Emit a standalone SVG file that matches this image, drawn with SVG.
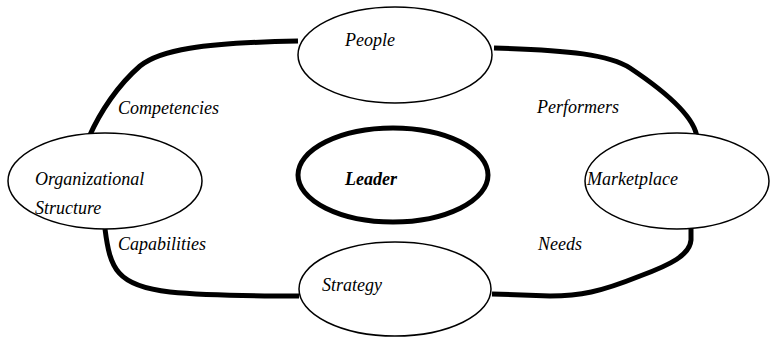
<svg xmlns="http://www.w3.org/2000/svg" width="770" height="339" viewBox="0 0 770 339">
<style>
.n{fill:#fff;stroke:#000;stroke-width:1.5}
.c{fill:none;stroke:#000;stroke-width:5}
text{font-family:"Liberation Serif",serif;font-style:italic;font-size:18px;fill:#000}
.b{font-weight:bold}
</style>
<rect width="770" height="339" fill="#fff"/>
<g id="connectors">
<path class="c" d="M298,41 C200,43 160,50 140,66 C118,85 100,112 89,137"/>
<path class="c" d="M494,48 C570,50 610,55 630,68 C660,88 695,115 697,138"/>
<path class="c" d="M105,229 C110,268 116,286 170,292 C200,295 250,296 299,296"/>
<path class="c" d="M691,224 L691,240 C690,255 670,265 640,276 C600,292 580,296 550,296 L492,294"/>
</g>
<g id="people"><ellipse class="n" cx="395" cy="55" rx="97" ry="48"/><text x="345" y="46">People</text></g>
<g id="org"><ellipse class="n" cx="105" cy="181" rx="97" ry="48"/><text x="35" y="185">Organizational</text><text x="35" y="214">Structure</text></g>
<g id="leader"><ellipse cx="393" cy="175" rx="95" ry="47" fill="#fff" stroke="#000" stroke-width="5"/><text class="b" x="345" y="185">Leader</text></g>
<g id="marketplace"><ellipse class="n" cx="677" cy="181" rx="92" ry="48"/><text x="587" y="185">Marketplace</text></g>
<g id="strategy"><ellipse class="n" cx="395" cy="289" rx="96" ry="47"/><text x="322" y="291">Strategy</text></g>
<g id="labels">
<text x="118" y="114">Competencies</text>
<text x="537" y="113">Performers</text>
<text x="118" y="250">Capabilities</text>
<text x="538" y="250">Needs</text>
</g>
</svg>
